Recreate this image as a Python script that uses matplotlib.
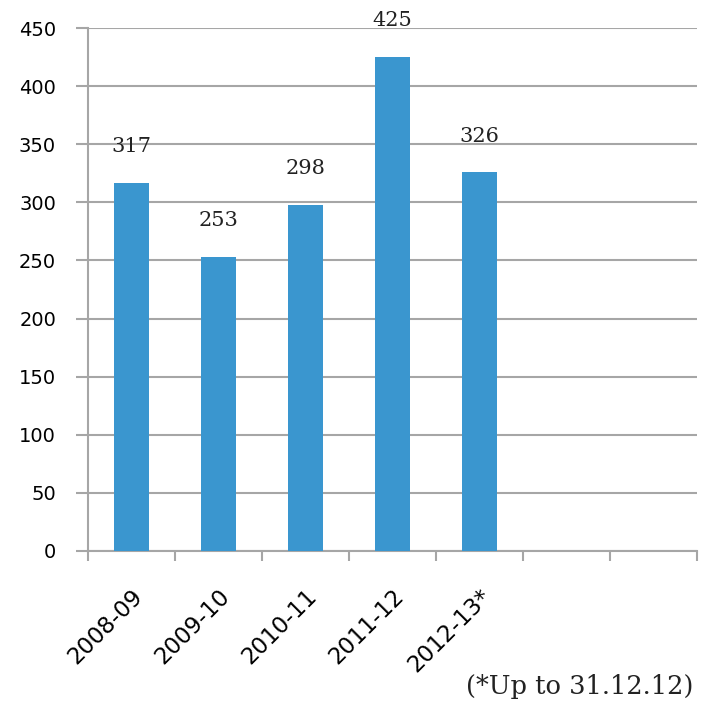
import matplotlib.pyplot as plt
import numpy as np

# data
years = ['2008-09', '2009-10', '2010-11', '2011-12', '2012-13*', '', '']
values = [317, 253, 298, 425, 326]
yticks = [0, 50, 100, 150, 200, 250, 300, 350, 400, 450]

bar_color = '#3A96CF'
grid_color = '#A6A6A6'

fig = plt.figure(figsize=(7.06, 7.01), dpi=100)
ax = fig.add_axes([88/706, 1 - 551/701, (697 - 88)/706, (551 - 28)/701])

x = np.arange(len(values))
ax.bar(x, values, width=0.4, color=bar_color, zorder=3)

# data labels above bars
for xi, v in zip(x, values):
    ax.annotate(str(v), (xi, v), xytext=(0, 26), textcoords='offset points',
                ha='center', va='center', fontsize=15, family='DejaVu Serif',
                color='#222222')

ax.set_xlim(-0.5, len(years) - 0.5)
ax.set_ylim(0, 450)
ax.set_yticks(yticks)
ax.set_yticklabels([str(t) for t in yticks], fontsize=14)
ax.yaxis.grid(True, color=grid_color, linewidth=1.5, zorder=0)

# category boundary ticks on x axis
ax.set_xticks(np.arange(len(years) + 1) - 0.5, minor=False)
ax.set_xticklabels([])
ax.set_xticks(np.arange(len(years)), minor=True)
ax.set_xticklabels(years, minor=True, rotation=45, ha='right',
                   rotation_mode='anchor', fontsize=16.5)
ax.tick_params(axis='x', which='major', length=7, color=grid_color, width=1.5)
ax.tick_params(axis='x', which='minor', length=0, pad=24)
ax.tick_params(axis='y', length=9, color=grid_color, width=1.5, pad=14)

for s in ['top', 'right']:
    ax.spines[s].set_visible(False)
for s in ['left', 'bottom']:
    ax.spines[s].set_color(grid_color)
    ax.spines[s].set_linewidth(1.5)

fig.text(0.982, 0.003, '(*Up to 31.12.12)', ha='right', va='bottom',
         fontsize=18.5, family='DejaVu Serif', color='#222222')

fig.savefig('out.png', dpi=100)
